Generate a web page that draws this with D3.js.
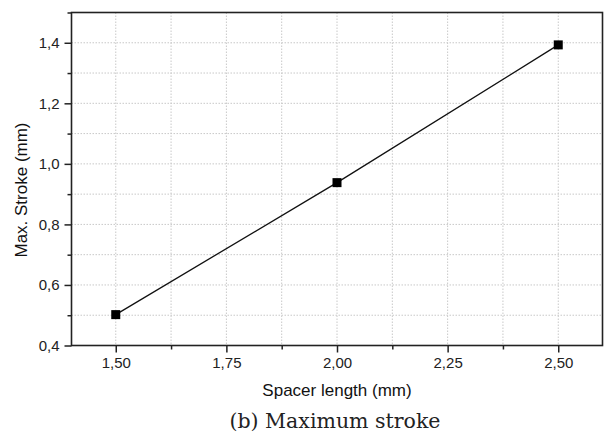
<!DOCTYPE html>
<html><head><meta charset="utf-8">
<script src="https://cdn.jsdelivr.net/npm/d3@7"></script>
<style>body{margin:0;background:#fff}</style>
</head><body>
<svg id="c" width="610" height="435"></svg>
<script>
const spacerLength = [1.50, 2.00, 2.50];
const maxStroke = [0.502, 0.938, 1.393];
const xTicks = [1.50, 1.75, 2.00, 2.25, 2.50];
const yTicks = [0.4, 0.6, 0.8, 1.0, 1.2, 1.4];
const xMinor = [1.625, 1.875, 2.125, 2.375];
const yMinor = [0.5, 0.7, 0.9, 1.1, 1.3, 1.5];

const svg = d3.select("#c");
const L = 71.5, R = 602.5, T = 12.5, B = 345.5;
const x = d3.scaleLinear().domain([1.4, 2.6]).range([L, R]);
const y = d3.scaleLinear().domain([0.4, 1.5]).range([B, T]);
const fmtX = v => d3.format(".2f")(v).replace(".", ",");
const fmtY = v => d3.format(".1f")(v).replace(".", ",");
const font = "Liberation Sans, Arial, sans-serif";

// grid
const g = svg.append("g");
[...xTicks, ...xMinor].forEach(v => g.append("line")
  .attr("x1", x(v)).attr("x2", x(v)).attr("y1", T).attr("y2", B)
  .attr("stroke", "#c8c8c8").attr("stroke-width", 1).attr("stroke-dasharray", "1.5,1.5"));
[...yTicks, ...yMinor].forEach(v => g.append("line")
  .attr("y1", y(v)).attr("y2", y(v)).attr("x1", L).attr("x2", R)
  .attr("stroke", "#c8c8c8").attr("stroke-width", 1).attr("stroke-dasharray", "1.5,1.5"));

// axes
const xAx = svg.append("g").attr("transform", `translate(0,${B})`)
  .call(d3.axisBottom(x).tickValues(xTicks).tickFormat(fmtX).tickSize(7).tickPadding(5));
const xAxMin = svg.append("g").attr("transform", `translate(0,${B})`)
  .call(d3.axisBottom(x).tickValues(xMinor).tickFormat("").tickSize(4));
const yAx = svg.append("g").attr("transform", `translate(${L},0)`)
  .call(d3.axisLeft(y).tickValues(yTicks).tickFormat(fmtY).tickSize(7).tickPadding(5));
const yAxMin = svg.append("g").attr("transform", `translate(${L},0)`)
  .call(d3.axisLeft(y).tickValues(yMinor).tickFormat("").tickSize(4));
[xAx, xAxMin, yAx, yAxMin].forEach(a => {
  a.select(".domain").remove();
  a.selectAll("line").attr("stroke", "#222").attr("stroke-width", 1.5);
  a.selectAll("text").attr("font-family", font).attr("font-size", 15).attr("fill", "#222");
});

// frame
svg.append("rect").attr("x", L).attr("y", T).attr("width", R - L).attr("height", B - T)
  .attr("fill", "none").attr("stroke", "#222").attr("stroke-width", 1.6);

// line + markers
const data = spacerLength.map((d, i) => [d, maxStroke[i]]);
svg.append("path").datum(data)
  .attr("d", d3.line().x(d => x(d[0])).y(d => y(d[1])))
  .attr("fill", "none").attr("stroke", "#111").attr("stroke-width", 1.3);
svg.selectAll("rect.m").data(data).enter().append("rect").attr("class", "m")
  .attr("x", d => x(d[0]) - 4.5).attr("y", d => y(d[1]) - 4.5)
  .attr("width", 9).attr("height", 9).attr("fill", "#000");

// labels
svg.append("text").attr("x", 337).attr("y", 396).attr("text-anchor", "middle")
  .attr("font-family", font).attr("font-size", 17).attr("fill", "#111").text("Spacer length (mm)");
svg.append("text").attr("transform", `translate(27,190) rotate(-90)`)
  .attr("text-anchor", "middle").attr("font-family", font).attr("font-size", 17).attr("fill", "#111")
  .text("Max. Stroke (mm)");
svg.append("text").attr("x", 335).attr("y", 428).attr("text-anchor", "middle")
  .attr("font-family", "DejaVu Serif, Liberation Serif, serif").attr("font-size", 20.5).attr("fill", "#222")
  .text("(b) Maximum stroke");
</script>
</body></html>
